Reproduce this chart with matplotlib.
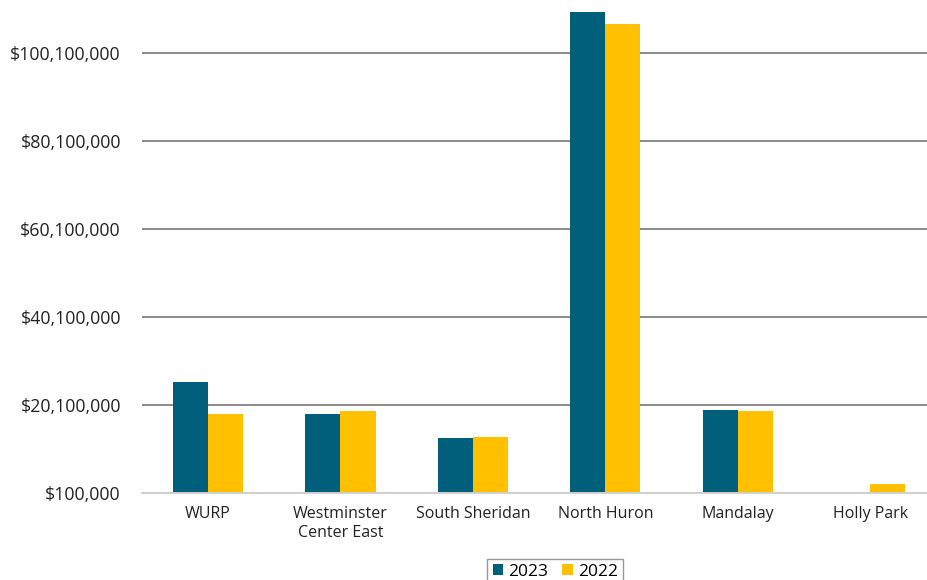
import matplotlib
matplotlib.use("Agg")
import matplotlib.pyplot as plt
import numpy as np
from matplotlib.ticker import FuncFormatter

plt.rcParams['font.family'] = ['Open Sans', 'DejaVu Sans']

categories = ["WURP", "Westminster\nCenter East", "South Sheridan", "North Huron", "Mandalay", "Holly Park"]
values_2023 = [25_300_000, 18_100_000, 12_600_000, 109_500_000, 19_000_000, 0]
values_2022 = [18_100_000, 18_800_000, 12_800_000, 106_800_000, 18_700_000, 2_100_000]
y_ticks = [100_000, 20_100_000, 40_100_000, 60_100_000, 80_100_000, 100_100_000]

teal = "#005F7B"
gold = "#FFC000"

fig = plt.figure(figsize=(9.27, 5.8), dpi=100)
ax = fig.add_axes([0.153, 0.15, 0.847, 0.85])

x = np.arange(len(categories))
w = 0.265
base = y_ticks[0]
h23 = [v - base if v > base else 0 for v in values_2023]
h22 = [v - base if v > base else 0 for v in values_2022]
ax.bar(x - w / 2, h23, w, bottom=base, color=teal, label="2023", zorder=3)
ax.bar(x + w / 2, h22, w, bottom=base, color=gold, label="2022", zorder=3)

ax.set_xlim(-0.5, 5.43)
ax.set_ylim(base, 112_150_000)
ax.set_yticks(y_ticks)
ax.yaxis.set_major_formatter(FuncFormatter(lambda v, p: f"${v:,.0f}"))
ax.set_xticks(x)
ax.set_xticklabels(categories, fontsize=11.5, color="#222222", linespacing=1.3)
ax.tick_params(axis='y', labelsize=12.8, colors="#222222", length=0, pad=15)
ax.tick_params(axis='x', length=0, pad=9)

ax.grid(axis='y', color="#8a8a8a", linewidth=1.4, zorder=0)
ax.grid(axis='x', visible=False)
for s in ["top", "right", "left"]:
    ax.spines[s].set_visible(False)
ax.spines["bottom"].set_color("#d0d0d0")
ax.spines["bottom"].set_linewidth(1.4)
ax.spines["bottom"].set_zorder(4)

leg = fig.legend(loc="upper center", bbox_to_anchor=(0.599, 0.052), ncol=2,
                 fontsize=12.5, frameon=True, fancybox=False, edgecolor="#7f7f7f",
                 handlelength=0.6, handleheight=0.6, handletextpad=0.3,
                 columnspacing=0.8, borderpad=0.3)
leg.get_frame().set_linewidth(1.0)

fig.savefig("out.png", dpi=100)
